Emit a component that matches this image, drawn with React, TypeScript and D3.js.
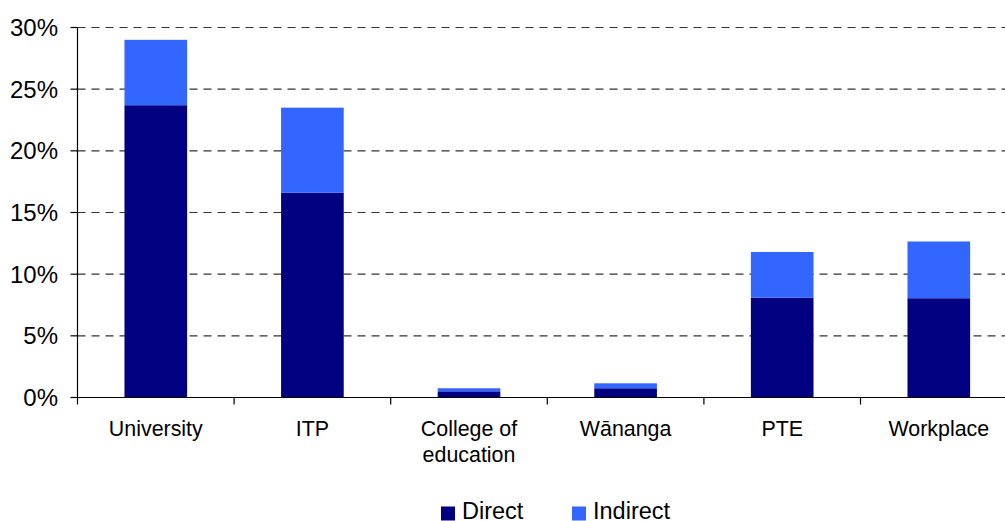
import React from "react";
import * as d3 from "d3";

const categories = ["University", "ITP", "College of\neducation", "Wānanga", "PTE", "Workplace"];
const direct = [23.7, 16.6, 0.5, 0.75, 8.1, 8.05];
const indirect = [5.3, 6.9, 0.25, 0.4, 3.7, 4.6];
const yTicks = [0, 5, 10, 15, 20, 25, 30];
const seriesNames = ["Direct", "Indirect"];
const colors = ["#000080", "#3366FF"];

export default function App() {
  const W = 1005, H = 521;
  const left = 77.5, top = 27.5, bottom = 397.5;
  const step = 156.6;
  const x = d3.scaleBand<string>().domain(categories).range([left, left + step * categories.length]).paddingInner(0.6).paddingOuter(0.3);
  const y = d3.scaleLinear().domain([0, 30]).range([bottom, top]);
  const font = "'Liberation Sans', Arial, sans-serif";
  const stacked = categories.map((c, i) => ({ c, d: direct[i], t: direct[i] + indirect[i] }));
  return (
    <svg width={W} height={H} style={{ position: "absolute", left: 0, top: 0 }} fontFamily={font}>
      <rect width={W} height={H} fill="#fff" />
      {yTicks.filter(t => t > 0).map(t => (
        <line key={t} x1={left} x2={W} y1={y(t)} y2={y(t)} stroke="#333" strokeDasharray="8,6" strokeWidth={1.2} />
      ))}
      {stacked.map(s => (
        <g key={s.c}>
          <rect x={x(s.c)!} width={x.bandwidth()} y={y(s.d)} height={y(0) - y(s.d)} fill={colors[0]} />
          <rect x={x(s.c)!} width={x.bandwidth()} y={y(s.t)} height={y(s.d) - y(s.t)} fill={colors[1]} />
        </g>
      ))}
      <line x1={left} x2={left} y1={top} y2={bottom} stroke="#000" strokeWidth={1.2} />
      <line x1={left} x2={W} y1={bottom} y2={bottom} stroke="#000" strokeWidth={1.2} />
      {yTicks.map(t => (
        <g key={t}>
          <line x1={left - 7} x2={left} y1={y(t)} y2={y(t)} stroke="#000" strokeWidth={1.2} />
          <text x={58} y={y(t)} dy="0.36em" textAnchor="end" fontSize={24} fill="#000">{t}%</text>
        </g>
      ))}
      {categories.map((c, i) => (
        <line key={c} x1={left + step * i} x2={left + step * i} y1={bottom} y2={bottom + 7} stroke="#000" strokeWidth={1.2} />
      ))}
      {categories.map(c => (
        <text key={c} x={x(c)! + x.bandwidth() / 2} y={436} textAnchor="middle" fontSize={21.4} fill="#000">
          {c.split("\n").map((line, j) => (
            <tspan key={j} x={x(c)! + x.bandwidth() / 2} dy={j === 0 ? 0 : 26}>{line}</tspan>
          ))}
        </text>
      ))}
      {seriesNames.map((n, i) => {
        const lx = [441, 572][i];
        return (
          <g key={n}>
            <rect x={lx} y={506.5} width={14} height={14} fill={colors[i]} />
            <text x={lx + 21} y={519} fontSize={23.5} fill="#000">{n}</text>
          </g>
        );
      })}
    </svg>
  );
}
